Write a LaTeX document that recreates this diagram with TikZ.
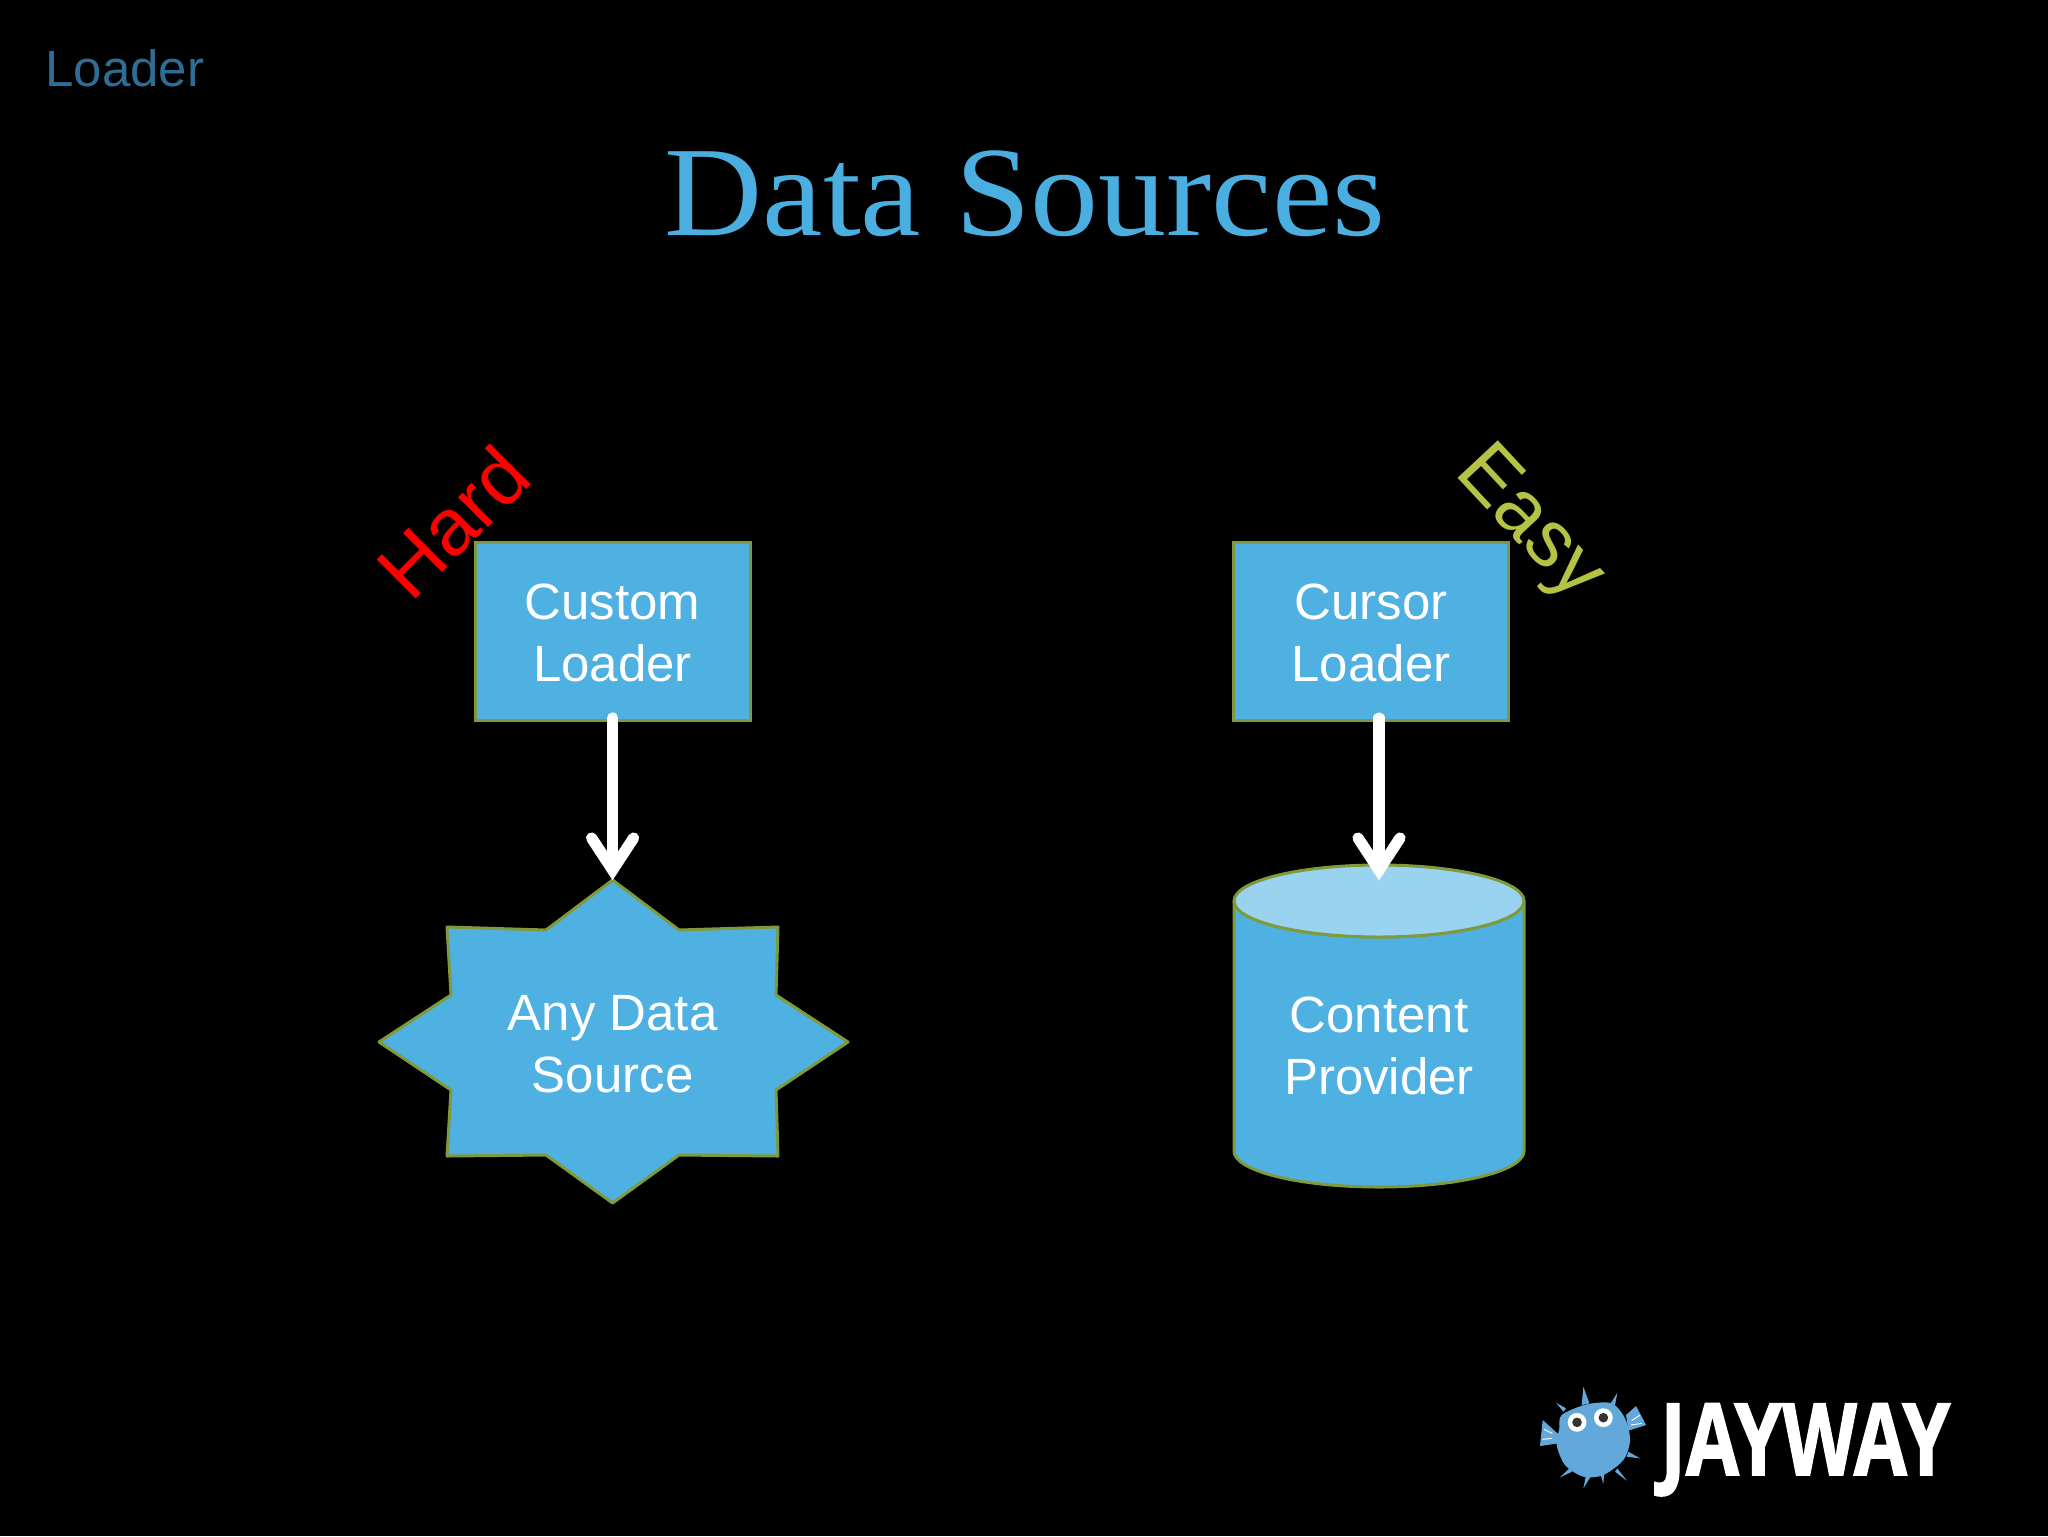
\documentclass[tikz,border=0pt]{standalone}
\usepackage{fontspec}
\setmainfont{Liberation Sans}
\newfontfamily\titlefont{Liberation Serif}
\newfontfamily\logofont[FakeBold=1.6]{Open Sans Bold}
\definecolor{shapeblue}{HTML}{4FB1E1}
\definecolor{toplight}{HTML}{9AD3F0}
\definecolor{edgeolive}{HTML}{7F9A3A}
\definecolor{titleblue}{HTML}{4BAEE0}
\definecolor{dimblue}{HTML}{2E6E96}
\definecolor{easygreen}{HTML}{B5C244}
\definecolor{fishblue}{HTML}{62A8DA}
\tikzset{
  x=0.5pt,y=-0.5pt,
  shapeedge/.style={draw=edgeolive,line width=1.5pt,fill=shapeblue,line join=round},
  boxstyle/.style={shapeedge,line join=miter,minimum width=137.5pt,minimum height=89pt,inner sep=0pt},
  lbl/.style={text=white,font=\fontsize{25.5}{30.7}\selectfont,align=center,inner sep=0pt},
  flow/.style={draw=white,line width=5.6pt,line cap=round},
  flowhead/.style={flow,line width=5.6pt,line join=miter},
  slant/.style={inner sep=0pt,font=\fontsize{40}{44}\selectfont},
}
\begin{document}
\begin{tikzpicture}
\useasboundingbox (0,0) rectangle (2048,1536);
\fill[black] (0,0) rectangle (2048,1536);
\node[anchor=base west,inner sep=0pt,text=dimblue,font=\fontsize{25.5}{30}\selectfont] (loader) at (45,87) {Loader};
\node[anchor=base,inner sep=0pt,text=titleblue,font=\titlefont\fontsize{64}{70}\selectfont,transform shape,xscale=1.062] (title) at (1025,235) {Data Sources};

\node[boxstyle] (custom) at (612.5,631) {};
\node[lbl] (customt) at (612.5,633) {Custom\\Loader};
\node[boxstyle] (cursor) at (1371,631) {};
\node[lbl] (cursort) at (1371,633) {Cursor\\Loader};

\path[shapeedge] (612.6,880) -- (679,930) -- (778,927) -- (776,995) -- (848,1042) -- (776,1090) -- (778,1156) -- (679,1155) -- (612.6,1203) -- (546,1155) -- (447,1156) -- (451,1090) -- (379,1042) -- (451,995) -- (447,927) -- (546,930) -- cycle;
\node[lbl] (any) at (612.6,1044) {Any Data\\Source};

\path[shapeedge] (1234,901) -- (1234,1151) arc[start angle=180,end angle=360,x radius=72.5pt,y radius=18pt] -- (1524,901) arc[start angle=360,end angle=180,x radius=72.5pt,y radius=18pt] -- cycle;
\path[shapeedge,fill=toplight] (1379,901) ellipse[x radius=72.5pt,y radius=18pt];
\node[lbl] (content) at (1379,1046) {Content\\Provider};

\coordinate (a1) at (612.6,718);
\coordinate (a2) at (612.6,870);
\coordinate (b1) at (1379,718);
\coordinate (b2) at (1379,870);
\draw[flow] (a1) -- (a2);
\draw[flow] (b1) -- (b2);
\draw[flowhead] ([xshift=-10.5pt,yshift=16pt]a2) -- (a2) -- ([xshift=10.5pt,yshift=16pt]a2);
\draw[flowhead] ([xshift=-10.5pt,yshift=16pt]b2) -- (b2) -- ([xshift=10.5pt,yshift=16pt]b2);

\node[slant,rotate=45,text=red] (hard) at (453,522) {Hard};
\node[slant,rotate=-47,text=easygreen] (easy) at (1528,525) {Easy};

\begin{scope}[shift={(1500,1360)},x=0.1667pt,y=-0.1667pt]
  \fill[fishblue] plot[smooth cycle] coordinates {(185,165) (260,133) (335,130) (375,175) (390,240) (370,300) (310,345) (250,350) (195,315) (170,255) (178,205)};
  \fill[fishblue] (250,80) -- (245,135) -- (268,130) -- cycle;
  \fill[fishblue] (352,98) -- (332,130) -- (345,135) -- cycle;
  \fill[fishblue] (168,128) -- (190,155) -- (198,145) -- cycle;
  \fill[fishblue] (420,295) -- (385,275) -- (380,290) -- cycle;
  \fill[fishblue] (380,362) -- (352,325) -- (345,335) -- cycle;
  \fill[fishblue] (180,352) -- (208,325) -- (216,335) -- cycle;
  \fill[fishblue] (250,385) -- (258,345) -- (272,350) -- cycle;
  \fill[fishblue] (310,372) -- (302,345) -- (312,345) -- cycle;
  \fill[fishblue] (120,258) -- (128,180) -- (178,225) -- (175,250) -- cycle;
  \fill[fishblue] (408,138) -- (438,195) -- (385,212) -- (378,165) -- cycle;
  \draw[white,line width=0.5pt] (132,208) -- (157,220) (128,238) -- (155,235) (395,182) -- (420,165) (392,195) -- (425,190);
  \fill[white] (231,187) circle[radius=4.7pt] (310,173) circle[radius=4.7pt];
  \fill[black!80] (231,187) circle[radius=2.4pt] (310,173) circle[radius=2.4pt];
  \node[anchor=base west,inner sep=0pt,text=white,font=\logofont\fontsize{50}{50}\selectfont,transform shape,xscale=0.77] (logo) at (480,345) {JAYWAY};
\end{scope}
\end{tikzpicture}
\end{document}
